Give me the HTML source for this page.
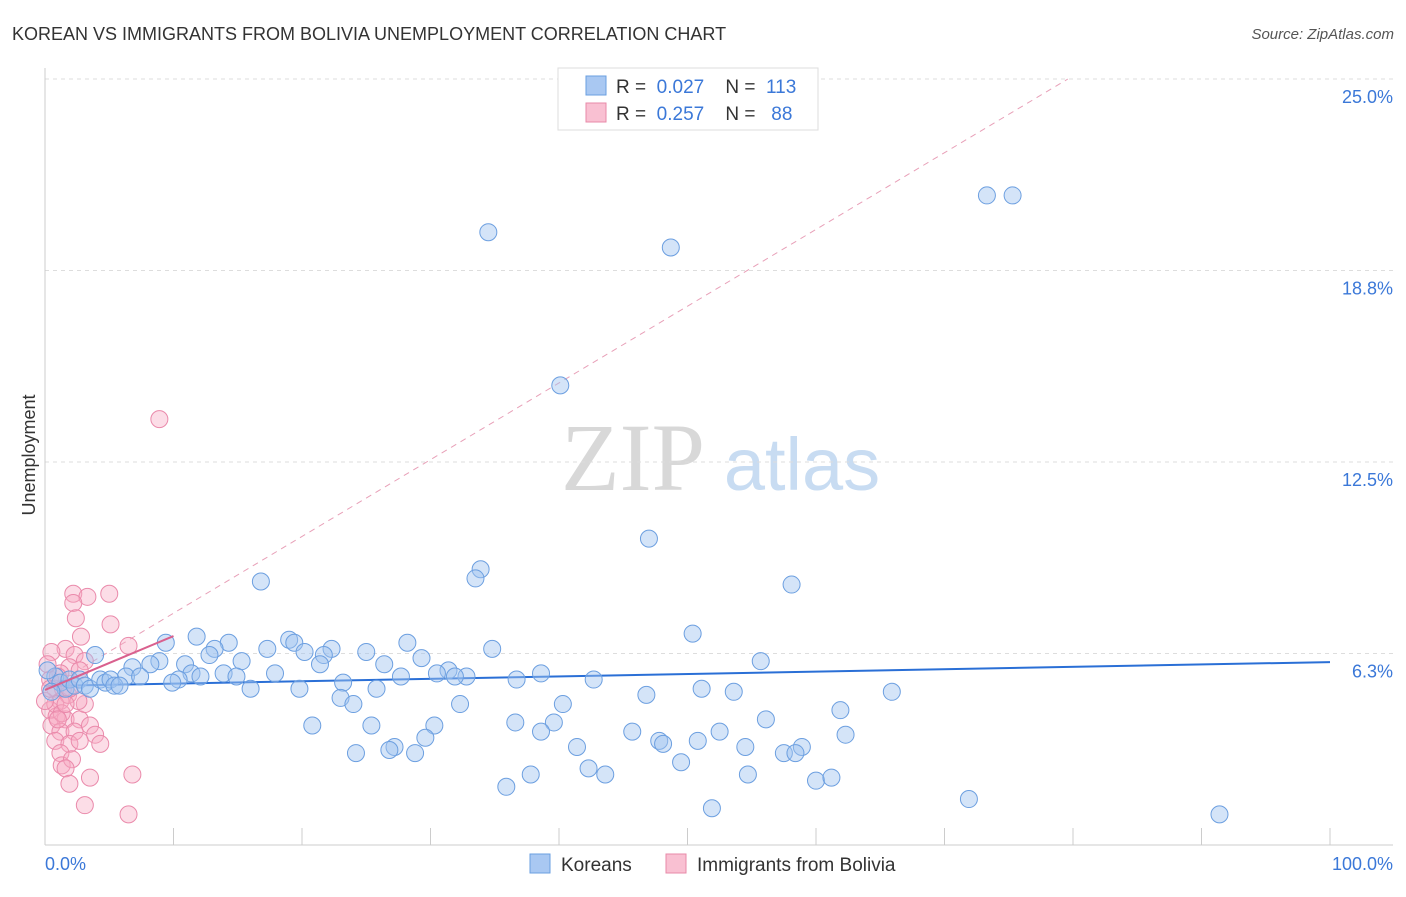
<!DOCTYPE html>
<html><head><meta charset="utf-8"><style>
body{margin:0;background:#fff;font-family:"Liberation Sans",sans-serif}
svg text{font-family:"Liberation Sans",sans-serif}
</style></head><body>
<svg id="chart" width="1406" height="892" xmlns="http://www.w3.org/2000/svg">
<text x="12" y="40" font-size="18" fill="#333">KOREAN VS IMMIGRANTS FROM BOLIVIA UNEMPLOYMENT CORRELATION CHART</text>
<text x="1394" y="39" font-size="15" fill="#555" font-style="italic" text-anchor="end">Source: ZipAtlas.com</text>
<g>
<text x="633" y="490" font-size="96" fill="#d8d8d8" text-anchor="middle" font-family="Liberation Serif" style="font-family:'Liberation Serif',serif">ZIP</text>
<text x="802" y="490" font-size="74" fill="#c8dcf2" text-anchor="middle">atlas</text>
</g>
<g id="grid"></g>
<g id="axes"></g>
<g id="trends"></g>
<g id="points"></g>
<text x="35" y="455" font-size="18" fill="#333" text-anchor="middle" transform="rotate(-90 35 455)">Unemployment</text>
<text x="45" y="870" font-size="18" fill="#3b78d8">0.0%</text>
<text x="1393" y="870" font-size="18" fill="#3b78d8" text-anchor="end">100.0%</text>
<g>
<rect x="558" y="68" width="260" height="62" fill="#fff" stroke="#ddd"/>
<rect x="586" y="76" width="20" height="19" fill="#a9c8f2" stroke="#6a9fe0"/>
<rect x="586" y="103" width="20" height="19" fill="#f9c0d2" stroke="#e88aa8"/>
<text x="616" y="93" font-size="19" fill="#333" xml:space="preserve">R =  <tspan fill="#3b78d8">0.027</tspan>    N =  <tspan fill="#3b78d8">113</tspan></text>
<text x="616" y="120" font-size="19" fill="#333" xml:space="preserve">R =  <tspan fill="#3b78d8">0.257</tspan>    N =   <tspan fill="#3b78d8">88</tspan></text>
</g>
<g>
<rect x="530" y="854" width="20" height="19" fill="#a9c8f2" stroke="#6a9fe0"/>
<text x="561" y="871" font-size="19" fill="#333">Koreans</text>
<rect x="666" y="854" width="20" height="19" fill="#f9c0d2" stroke="#e88aa8"/>
<text x="697" y="871" font-size="19" fill="#333">Immigrants from Bolivia</text>
</g>
</svg>
<script>
const yTicks=[6.25,12.5,18.75,25];
const yTickLabels=["6.3%","12.5%","18.8%","25.0%"];
const xTicks=[0,10,20,30,40,50,60,70,80,90,100];
const koreanX=[34.5,48.7,73.3,75.3,40.1,47.0,33.9,33.5,16.8,58.1,50.4,11.8,14.3,19.0,19.4,28.2,22.3,13.2,9.4,34.8,17.3,25.0,20.2,21.7,12.8,3.9,8.9,8.2,10.9,15.3,21.4,26.4,29.3,55.7,6.8,11.4,13.9,17.9,31.4,38.6,30.5,32.8,31.9,27.7,36.7,42.7,6.3,7.4,10.4,12.1,14.9,9.9,23.2,19.8,25.8,16.0,51.1,53.6,46.8,65.9,23.0,24.0,32.3,40.3,61.9,56.1,20.8,36.6,39.6,30.3,25.4,45.7,52.5,62.3,38.6,29.6,47.8,48.1,50.8,24.2,27.2,26.8,28.8,41.4,54.5,57.5,58.9,58.4,49.5,42.3,37.8,43.6,54.7,60.0,61.2,35.9,51.9,71.9,91.4,0.8,1.2,1.6,1.9,2.3,2.7,3.1,3.5,4.3,4.7,5.1,5.4,5.8,0.2,0.5];
const koreanY=[20.0,19.5,21.2,21.2,15.0,10.0,9.0,8.7,8.6,8.5,6.9,6.8,6.6,6.7,6.6,6.6,6.4,6.4,6.6,6.4,6.4,6.3,6.3,6.2,6.2,6.2,6.0,5.9,5.9,6.0,5.9,5.9,6.1,6.0,5.8,5.6,5.6,5.6,5.7,5.6,5.6,5.5,5.5,5.5,5.4,5.4,5.5,5.5,5.4,5.5,5.5,5.3,5.3,5.1,5.1,5.1,5.1,5.0,4.9,5.0,4.8,4.6,4.6,4.6,4.4,4.1,3.9,4.0,4.0,3.9,3.9,3.7,3.7,3.6,3.7,3.5,3.4,3.3,3.4,3.0,3.2,3.1,3.0,3.2,3.2,3.0,3.2,3.0,2.7,2.5,2.3,2.3,2.3,2.1,2.2,1.9,1.2,1.5,1.0,5.5,5.3,5.1,5.4,5.2,5.4,5.2,5.1,5.4,5.3,5.4,5.2,5.2,5.7,5.0];
const boliviaX=[8.9,5.0,2.2,3.3,2.2,2.4,5.1,2.8,6.5,1.6,0.5,2.3,3.1,1.9,1.2,2.7,0.4,0.8,1.2,0.4,0.9,1.6,2.7,3.1,0.5,1.2,2.3,3.5,3.9,0.8,1.9,2.7,4.3,1.2,1.3,2.1,1.6,1.9,3.5,6.8,3.1,6.5,1.0,1.4,1.8,2.6,0.8,1.3,1.9,0.2,0.0,0.4,1.0,1.6];
const boliviaY=[13.9,8.2,8.2,8.1,7.9,7.4,7.2,6.8,6.5,6.4,6.3,6.2,6.0,5.8,5.6,5.7,5.4,5.1,4.7,4.4,4.2,4.1,4.1,4.6,3.9,3.7,3.7,3.9,3.6,3.4,3.3,3.4,3.3,3.0,2.6,2.8,2.5,2.0,2.2,2.3,1.3,1.0,5.5,5.1,4.9,4.7,4.6,4.3,5.1,5.9,4.7,5.1,4.1,4.6];
const koreanTrend=[[0,5.19],[100,5.97]];
const boliviaTrend=[[0,5.06],[10,6.82]];
const boliviaDashed=[[0,5.06],[79.6,25]];
const X0=45,X1=1330,Y0=845,PXPER=30.64;
const sx=v=>X0+(X1-X0)*v/100;
const sy=v=>Y0-v*PXPER;
const NS="http://www.w3.org/2000/svg";
function mk(tag,parent,attrs){const e=document.createElementNS(NS,tag);for(const k in attrs)e.setAttribute(k,attrs[k]);parent.appendChild(e);return e;}
const grid=document.getElementById('grid'),axes=document.getElementById('axes'),trends=document.getElementById('trends'),pts=document.getElementById('points');
yTicks.forEach((t,i)=>{
 const l=mk('line',grid,{x1:45,x2:1393,y1:sy(t),y2:sy(t),stroke:'#ddd','stroke-dasharray':'4,4'});
 
 
 const tx=mk('text',axes,{x:1393,y:sy(t)+24,'font-size':18,fill:'#3b78d8','text-anchor':'end'});
 tx.textContent=yTickLabels[i];
 
 
});
const yl=mk('line',axes,{x1:45,x2:45,y1:68,y2:845,stroke:'#ccc'});


const xl=mk('line',axes,{x1:45,x2:1393,y1:845,y2:845,stroke:'#ccc'});


xTicks.forEach(t=>{
 const l=mk('line',axes,{x1:sx(t),x2:sx(t),y1:828,y2:845,stroke:'#ccc'});
 
 
});
const d=mk('line',trends,{x1:sx(boliviaDashed[0][0]),y1:sy(boliviaDashed[0][1]),x2:sx(boliviaDashed[1][0]),y2:sy(boliviaDashed[1][1]),stroke:'#e8a0b8','stroke-width':1,'stroke-dasharray':'6,5'});


boliviaX.forEach((x,i)=>{
 const c=mk('circle',pts,{cx:sx(x),cy:sy(boliviaY[i]),r:8.5,fill:'rgba(248,170,196,0.4)',stroke:'#ea8aab','stroke-width':1});
 
 
});
koreanX.forEach((x,i)=>{
 const c=mk('circle',pts,{cx:sx(x),cy:sy(koreanY[i]),r:8.5,fill:'rgba(160,195,240,0.45)',stroke:'#6c9fe0','stroke-width':1});
 
 
});
const kt=mk('line',trends,{x1:sx(koreanTrend[0][0]),y1:sy(koreanTrend[0][1]),x2:sx(koreanTrend[1][0]),y2:sy(koreanTrend[1][1]),stroke:'#2a6fd6','stroke-width':2});


const bt=mk('line',pts,{x1:sx(boliviaTrend[0][0]),y1:sy(boliviaTrend[0][1]),x2:sx(boliviaTrend[1][0]),y2:sy(boliviaTrend[1][1]),stroke:'#d9608e','stroke-width':2});


</script>
</body></html>
